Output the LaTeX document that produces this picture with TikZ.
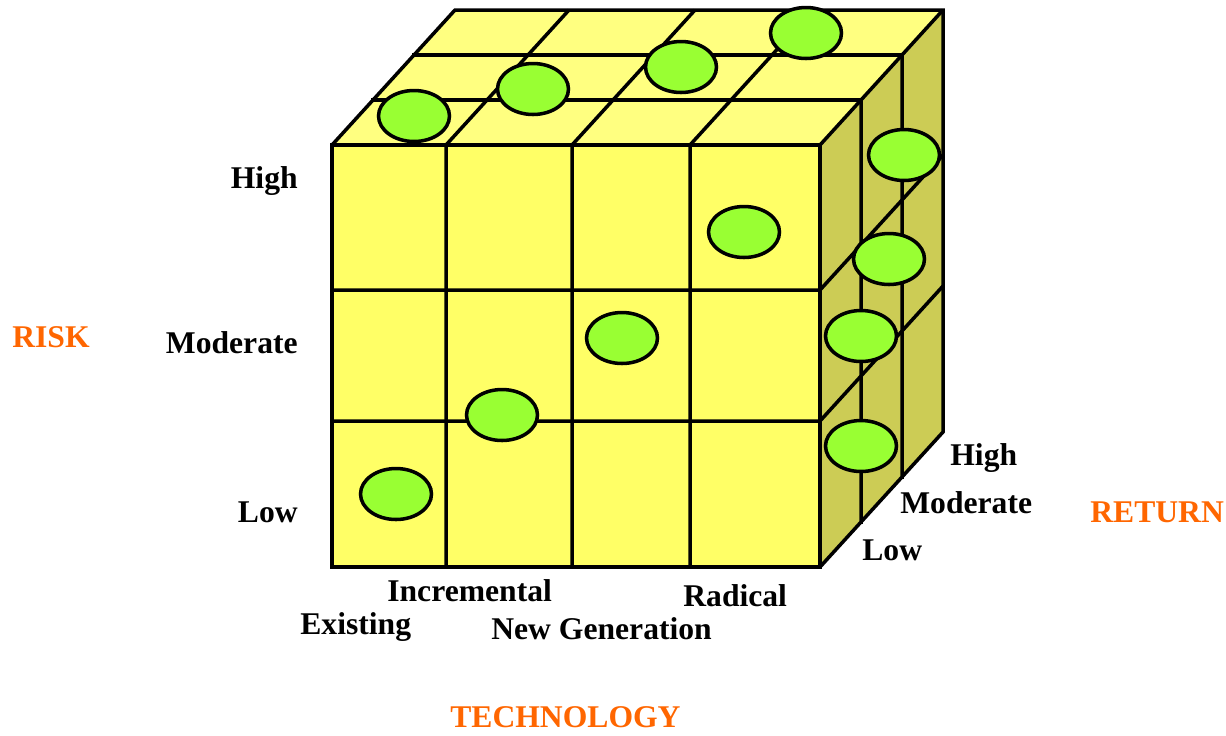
\documentclass[tikz,border=0pt]{standalone}
\usepackage{fontspec}
\setmainfont{Liberation Serif}
\usepackage{tikz}
\usetikzlibrary{shapes.geometric}
\definecolor{Face}{HTML}{FFFF66}
\definecolor{TopFace}{HTML}{FFFF80}
\definecolor{Side}{HTML}{CCCC55}
\definecolor{Dot}{HTML}{99FF33}
\definecolor{AxisOrange}{HTML}{FF6600}

\begin{document}
\begin{tikzpicture}[x=0.02cm,y=-0.02cm,
  cell/.style={draw=black,line width=2pt},
  seam/.style={draw=black,line width=2.8pt},
  dot/.style={ellipse,draw=black,fill=Dot,line width=2pt,minimum width=1.42cm,minimum height=1.02cm,inner sep=0pt},
  lab/.style={font=\fontsize{18}{20}\selectfont\bfseries,inner sep=0pt},
  axislab/.style={lab,text=AxisOrange}
]
\useasboundingbox (0,0) rectangle (1226,735);
% three slabs, back to front
\foreach \k in {2,1,0} {
  \begin{scope}[shift={(41*\k,-45*\k)}]
    \fill[TopFace] (332,145) -- (820,145) -- (861,100) -- (373,100) -- cycle;
    \fill[Side] (820,145) -- (861,100) -- (861,522) -- (820,567) -- cycle;
    \fill[Face] (332,145) rectangle (820,567);
    \foreach \c in {446,572,690}
      \draw[cell] (\c,567) -- (\c,145) -- ++(41,-45);
    \foreach \r in {290,421}
      \draw[cell] (332,\r) -- (820,\r) -- ++(41,-45);
    \draw[cell] (332,145) rectangle (820,567);
    \draw[cell] (332,145) -- (373,100) -- (861,100) -- (861,522) -- (820,567);
    \draw[cell] (820,145) -- (861,100);
  \end{scope}
}
\draw[seam] (373,100) -- (861,100);
\draw[seam] (414,55) -- (902,55);
% ideas
\node[dot] (top1) at (414,116) {};
\node[dot] (top2) at (533,89) {};
\node[dot] (top3) at (681,67) {};
\node[dot] (top4) at (806,33) {};
\node[dot] (side1) at (904,155) {};
\node[dot] (side2) at (889,259) {};
\node[dot] (side3) at (861,336) {};
\node[dot] (side4) at (861,446) {};
\node[dot] (front1) at (744,232) {};
\node[dot] (front2) at (622,338) {};
\node[dot] (front3) at (502,415) {};
\node[dot] (front4) at (396,494) {};
% risk
\node[lab,anchor=base east] (rhigh) at (298,188) {High};
\node[lab,anchor=base east] (rmod) at (298,353) {Moderate};
\node[lab,anchor=base east] (rlow) at (298,522) {Low};
\node[axislab,anchor=base west] (risk) at (12,347) {RISK};
% technology
\node[lab,anchor=base west] (tinc) at (387,601) {Incremental};
\node[lab,anchor=base west] (texist) at (300,634) {Existing};
\node[lab,anchor=base west] (trad) at (683,606) {Radical};
\node[lab,anchor=base west] (tnew) at (491,639) {New Generation};
\node[axislab,anchor=base west] (tech) at (450,727) {TECHNOLOGY};
% return
\node[lab,anchor=base west] (nhigh) at (950,465) {High};
\node[lab,anchor=base west] (nmod) at (900,513) {Moderate};
\node[lab,anchor=base west] (nlow) at (862,560) {Low};
\node[axislab,anchor=base west] (ret) at (1090,522) {RETURN};
\end{tikzpicture}
\end{document}
